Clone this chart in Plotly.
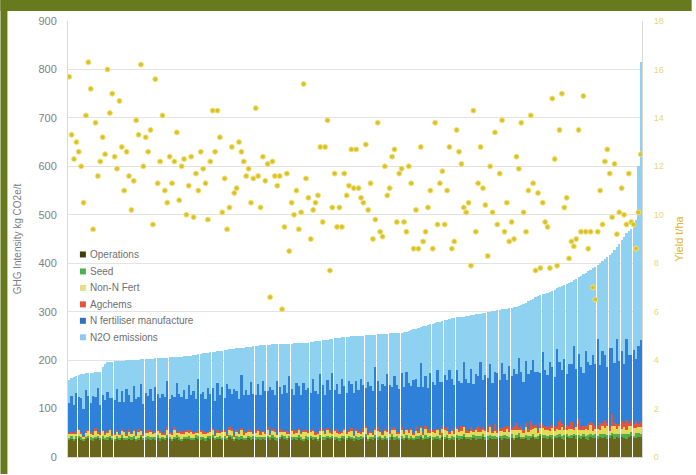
import plotly.graph_objects as go

# ---------------- data ----------------
totals = [
158,163,166,168,170,172,172,173,173,174, 174,175,175,176,186,192,196,197,197,198,
198,199,199,199,200,200,200,201,201,201, 202,202,202,203,203,203,204,204,204,205,
205,205,206,206,206,207,207,207,208,208, 208,209,210,211,212,213,214,215,215,216,
217,217,218,219,219,220,221,222,222,223, 224,225,225,226,227,227,228,229,230,230,
231,231,232,232,232,233,233,233,233,234, 234,234,234,234,235,235,235,235,236,236,
236,237,238,239,239,240,241,242,242,243, 244,245,246,246,247,247,248,248,249,249,
249,250,250,250,251,251,252,252,252,253, 253,254,254,254,255,255,256,256,257,257,
258,259,260,262,264,265,267,268,270,271, 272,274,275,277,278,279,281,282,283,285,
286,287,288,288,289,290,291,292,293,294, 295,296,296,297,298,299,300,301,302,303,
304,305,305,306,307,308,309,310,312,314, 316,318,321,324,327,330,332,334,336,337,
338,341,343,345,348,350,352,355,357,360, 362,365,368,371,374,377,380,383,386,390,
393,397,400,404,409,413,418,422,427,433, 440,447,455,462,466,470,475,490,600,815]

operations = [
36,38,35,37,40,36,34,38,39,36,35,37,41,36,38,35,37,39,36,34,
38,36,40,37,35,39,36,38,34,37,41,36,35,38,37,39,36,40,35,37,
36,39,37,35,38,40,36,34,37,39,38,36,35,41,37,36,38,35,39,37,
40,36,38,37,35,39,36,41,37,34,38,36,39,37,35,40,36,38,37,39,
35,38,36,40,37,39,36,35,38,41,37,36,39,35,38,37,40,36,34,38,
37,39,36,38,35,40,37,36,39,38,41,36,37,35,39,38,36,40,37,35,
38,36,39,37,41,35,38,36,40,37,39,36,38,35,37,42,36,39,37,38,
36,40,37,38,35,39,37,41,36,38,37,40,35,39,38,36,42,37,39,36,
38,37,40,36,39,41,37,38,35,40,36,39,38,42,37,36,40,38,39,37,
39,36,41,38,37,40,36,39,42,37,38,40,36,39,41,38,37,43,39,40,
38,41,37,40,39,42,38,36,41,40,39,43,37,40,38,41,39,36,42,40,
40,38,42,39,41,37,40,43,38,41,39,42,40,38,41,44,39,40,42,41]

seed = [
4,5,3,6,4,5,4,3,5,6,4,5,3,4,6,5,4,5,3,4,
5,4,6,3,5,4,5,6,4,3,5,4,6,5,4,3,5,6,4,5,
4,6,5,3,4,5,6,4,5,3,6,4,5,4,6,5,3,4,5,6,
5,3,4,6,5,4,3,5,6,4,5,6,4,3,5,4,6,5,4,3,
6,4,5,3,4,6,5,4,3,5,6,4,5,6,3,4,5,6,4,5,
4,5,6,4,3,5,4,6,5,4,3,6,5,4,5,6,4,3,5,4,
5,6,4,5,6,3,4,5,6,4,5,3,6,5,4,6,5,4,3,6,
4,5,3,6,5,4,6,5,4,7,5,4,6,3,5,4,7,5,6,4,
6,4,5,7,4,6,5,3,6,5,7,4,5,6,4,7,5,6,4,5,
5,7,4,6,5,8,4,6,7,5,4,6,8,5,7,4,6,5,7,6,
6,5,8,4,7,6,5,9,6,4,7,5,8,6,5,7,4,9,6,5,
7,6,5,9,6,8,5,7,10,6,8,5,7,9,6,8,5,10,7,6]

non_n_fert = [
8,5,10,6,12,7,4,9,11,6,8,13,5,7,10,6,9,12,5,8,
10,6,8,12,5,9,7,11,6,13,8,5,10,7,12,6,9,8,11,5,
7,12,6,9,14,5,8,11,7,10,6,13,9,5,8,12,7,10,6,9,
11,5,9,7,13,8,6,10,12,5,9,7,14,6,10,8,11,5,9,12,
6,10,8,13,5,9,11,7,12,6,10,8,5,13,7,9,11,6,14,8,
9,7,12,5,10,8,14,6,11,9,5,12,8,10,6,13,7,9,11,5,
12,8,6,10,14,7,9,5,11,13,8,6,10,12,7,9,15,6,8,11,
7,11,9,13,6,10,8,14,7,12,9,5,11,8,13,6,10,15,9,7,
10,6,13,8,11,15,7,9,12,6,14,8,10,7,13,9,16,6,11,8,
9,12,7,14,10,8,16,11,6,13,9,15,7,12,10,17,8,11,14,9,
12,8,15,10,13,7,18,11,9,14,12,8,16,10,13,7,15,11,18,9,
10,14,9,16,12,19,8,13,15,10,17,11,14,9,18,12,16,10,13,15]

agchems = [
2,3,1,4,2,3,2,5,1,3,2,4,3,2,1,3,4,2,3,2,
3,2,4,1,3,5,2,3,2,4,1,3,2,5,3,2,4,1,3,2,
2,4,3,2,5,1,3,4,2,3,6,2,3,1,4,2,5,3,2,4,
3,1,4,2,3,5,2,6,3,2,4,1,3,5,2,4,3,2,6,3,
4,2,3,6,2,3,5,2,4,3,1,5,3,2,7,3,4,2,3,5,
2,5,3,4,2,6,3,2,5,3,4,2,7,3,4,2,5,3,6,2,
3,4,2,7,3,5,2,4,3,8,2,5,3,4,6,2,5,3,4,7,
5,2,6,3,4,8,3,5,2,6,4,9,3,5,2,7,4,3,8,5,
3,7,4,5,10,3,6,4,8,5,3,12,4,6,3,9,5,4,14,6,
6,4,9,5,12,4,7,15,5,8,4,10,6,18,5,7,4,11,6,9,
5,12,6,8,4,20,7,5,10,6,15,4,8,22,6,9,5,12,7,16,
8,5,14,7,18,6,10,25,7,12,5,16,9,20,6,11,8,15,7,10]

n_fert_manufacture = [
62,75,58,80,66,71,55,84,69,60,77,64,90,58,72,68,81,63,74,70,
85,66,78,60,92,70,64,88,73,67,95,62,79,71,84,66,90,75,69,82,
74,96,68,80,63,101,77,70,88,65,93,72,84,69,105,76,81,67,90,74,
83,70,98,76,88,66,104,79,72,95,81,69,110,77,86,73,99,80,71,93,
78,102,85,74,96,82,70,108,88,76,94,80,115,84,73,100,87,78,97,83,
90,76,104,86,80,112,91,77,99,85,120,82,94,79,106,88,81,102,92,86,
98,84,110,90,79,104,93,87,125,95,83,101,89,116,94,85,107,96,88,112,
92,118,97,86,108,100,90,130,95,104,88,115,99,93,122,101,91,109,97,127,
103,94,117,100,89,132,106,98,120,95,111,104,140,97,113,102,126,99,108,118,
100,135,110,96,124,107,118,101,145,112,99,128,115,105,138,109,121,103,150,116,
108,131,119,104,160,122,112,142,106,127,118,170,113,135,124,110,155,128,117,140,
126,180,120,148,133,115,162,138,125,175,130,145,121,168,140,135,152,128,160,170]

yield_t_ha = [
15.7,13.3,12.3,13.0,12.6,12.0,10.5,14.1,16.3,15.2,9.4,13.8,
11.6,12.2,13.2,12.5,16.0,14.2,15.0,12.4,11.9,14.7,12.8,11.0,
12.6,11.6,10.2,11.4,13.9,13.3,16.2,12.0,13.2,12.6,13.5,9.6,
15.6,11.3,12.2,14.1,11.0,10.5,12.4,11.3,12.2,13.4,10.6,12.0,
12.3,10.0,11.2,12.4,9.9,11.7,11.0,12.6,11.9,11.3,9.8,12.2,
14.3,12.6,14.3,13.2,10.1,11.5,9.4,10.3,12.8,10.9,11.1,13.0,
12.6,12.2,11.6,11.9,10.5,11.5,14.4,11.6,10.3,12.4,11.4,12.1,
6.6,12.2,11.6,11.2,11.6,6.1,9.5,11.7,8.5,10.5,10.0,11.0,
9.4,10.1,15.4,11.5,10.7,9.0,10.2,10.5,10.8,12.8,9.7,12.8,
13.9,7.7,10.3,11.7,9.5,10.3,9.5,11.7,10.8,11.2,12.7,11.1,
12.7,11.1,10.7,10.5,12.9,10.2,11.3,9.0,9.8,13.8,9.3,9.1,
12.0,10.8,11.1,12.4,12.7,9.7,11.7,11.9,9.7,9.3,12.0,11.3,
8.6,10.2,8.6,12.8,8.9,9.3,10.3,11.0,8.6,13.8,9.6,11.3,
11.8,9.6,11.0,12.8,8.6,8.9,13.5,12.6,12.1,10.3,10.1,10.5,
7.9,14.3,9.3,11.3,12.8,11.1,10.4,8.3,12.0,10.1,13.4,9.6,
11.7,13.9,9.3,10.5,8.9,9.7,9.0,12.4,11.9,13.8,10.1,9.3,
11.0,14.1,11.3,7.7,10.9,7.8,10.5,9.7,9.5,7.8,14.8,12.3,
7.9,13.5,15.0,10.3,10.7,8.2,8.9,8.7,9.0,13.5,9.3,14.9,
9.3,8.6,9.3,7.0,6.5,9.3,11.0,9.6,12.2,12.7,11.7,9.9,
12.1,9.2,10.1,11.1,10.0,9.6,11.7,9.7,9.6,8.6,10.1,12.5]

left_ticks = [0, 100, 200, 300, 400, 500, 600, 700, 800, 900]
right_ticks = [0, 2, 4, 6, 8, 10, 12, 14, 16, 18]

# ---------------- figure ----------------
n = min(len(totals), len(operations), len(seed), len(non_n_fert),
        len(agchems), len(n_fert_manufacture), len(yield_t_ha))
farms = list(range(1, n + 1))
n2o = [max(totals[i] - operations[i] - seed[i] - non_n_fert[i] - agchems[i]
           - n_fert_manufacture[i], 0) for i in range(n)]

series = [
    ("Operations", operations, "#69651d", "#3f3d0c"),
    ("Seed", seed, "#4fae4f", "#4fae4f"),
    ("Non-N Fert", non_n_fert, "#e2da58", "#e4e08a"),
    ("Agchems", agchems, "#e2553c", "#e2553c"),
    ("N fertiliser manufacture", n_fert_manufacture, "#2f80d9", "#2f72c4"),
    ("N2O emissions", n2o, "#8fd1f1", "#8fc8ee"),
]

fig = go.Figure()
for name, vals, col, _ in series:
    fig.add_trace(go.Bar(x=farms, y=vals[:n], name=name, marker_color=col,
                         marker_line_width=0, showlegend=False))

fig.add_trace(go.Scatter(x=farms, y=yield_t_ha[:n], yaxis="y2", mode="markers",
                         name="Yield", showlegend=False,
                         marker=dict(color="#d9c12e", size=5,
                                     line=dict(color="#f4e273", width=1))))

W, H = 696, 475
L, R, T, B = 68, 50, 21, 17
pw, ph = W - L - R, H - T - B
GREEN = "#687a1e"
def px_x(p):
    return (p - L) / pw
def px_y(p):
    return (H - B - p) / ph

shapes = [
    dict(type="rect", xref="paper", yref="paper",
         x0=px_x(0), x1=px_x(W), y0=px_y(11), y1=px_y(0),
         fillcolor=GREEN, line_width=0, layer="above"),
    dict(type="rect", xref="paper", yref="paper",
         x0=px_x(0), x1=px_x(7), y0=px_y(H), y1=px_y(0),
         fillcolor=GREEN, line_width=0, layer="above"),
]
annotations = []
# legend (drawn by hand to match the compact item spacing)
leg_y = [255, 272, 288.5, 305, 321.5, 338]
for (name, _, _, sw), yy in zip(series, leg_y):
    shapes.append(dict(type="rect", xref="paper", yref="paper",
                       x0=px_x(80), x1=px_x(86), y0=px_y(yy + 3), y1=px_y(yy - 3),
                       fillcolor=sw, line_width=0, layer="above"))
    annotations.append(dict(xref="paper", yref="paper", x=px_x(88), y=px_y(yy),
                            xanchor="left", yanchor="middle", showarrow=False,
                            text=name, font=dict(size=10, color="#6f6f6f")))

fig.update_layout(
    width=W, height=H,
    margin=dict(l=L, r=R, t=T, b=B),
    paper_bgcolor="white", plot_bgcolor="white",
    barmode="stack", bargap=0.06,
    font=dict(family="Liberation Sans", size=11, color="#7f7f7f"),
    showlegend=False,
    xaxis=dict(showticklabels=False, showgrid=False, zeroline=False,
               showline=True, linecolor="#d9d9d9", ticks="",
               range=[0.5, n + 0.5]),
    yaxis=dict(range=[0, 900], tickvals=left_ticks, showgrid=True,
               gridcolor="#e3e3e3", gridwidth=1, zeroline=False,
               showline=True, linecolor="#d9d9d9",
               tickfont=dict(size=11, color="#7f7f7f"),
               ticklabelstandoff=8,
               title=dict(text="GHG Intensity kg CO2e/t",
                          font=dict(size=10, color="#7f7f7f"), standoff=14)),
    yaxis2=dict(range=[0, 18], tickvals=right_ticks, overlaying="y",
                side="right", showgrid=False, zeroline=False,
                showline=True, linecolor="#d9d9d9",
                tickfont=dict(size=9, color="#e8d77a"),
                ticklabelstandoff=9,
                title=dict(text="Yield t/ha",
                           font=dict(size=11, color="#e2b22a"), standoff=12)),
    shapes=shapes,
    annotations=annotations,
)

fig.write_html("out.html")
